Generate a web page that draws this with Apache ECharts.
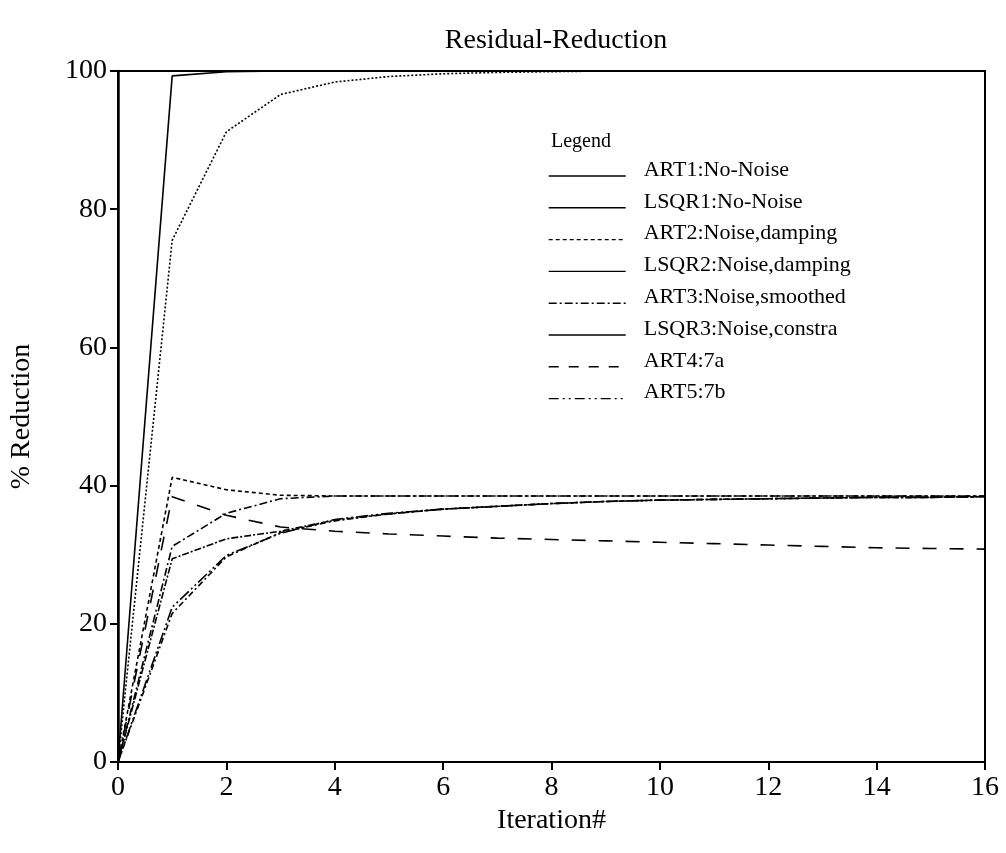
<!DOCTYPE html>
<html>
<head>
<meta charset="utf-8">
<script src="https://cdn.jsdelivr.net/npm/echarts@6/dist/echarts.min.js"></script>
<style>
html,body{margin:0;padding:0;background:#fff;}
#chart{width:1006px;height:853px;}
</style>
</head>
<body>
<div id="chart"></div>
<script>
const iterations = [0,1,2,3,4,5,6,7,8,9,10,11,12,13,14,15,16];
const seriesNames = ['ART1:No-Noise','LSQR1:No-Noise','ART2:Noise,damping','LSQR2:Noise,damping','ART3:Noise,smoothed','LSQR3:Noise,constra','ART4:7a','ART5:7b'];
const art1  = [0, 99.3, 99.9, 100, 100, 100, 100, 100, 100, 100, 100, 100, 100, 100, 100, 100, 100];
const lsqr1 = [0, 75.5, 91.2, 96.6, 98.4, 99.2, 99.6, 99.8, 99.9, 100, 100, 100, 100, 100, 100, 100, 100];
const art2  = [0, 41.2, 39.4, 38.6, 38.5, 38.5, 38.5, 38.5, 38.5, 38.5, 38.5, 38.5, 38.5, 38.5, 38.5, 38.5, 38.5];
const lsqr2 = [0, 29.4, 32.3, 33.4, 35.0, 35.9, 36.6, 37.0, 37.4, 37.7, 37.9, 38.0, 38.1, 38.2, 38.3, 38.3, 38.4];
const art3  = [0, 31.2, 36.0, 38.1, 38.5, 38.5, 38.5, 38.5, 38.5, 38.5, 38.5, 38.5, 38.5, 38.5, 38.5, 38.5, 38.5];
const lsqr3 = [0, 21.5, 29.7, 33.2, 34.9, 35.9, 36.6, 37.0, 37.4, 37.7, 37.9, 38.0, 38.1, 38.2, 38.3, 38.3, 38.4];
const art4  = [0, 38.4, 35.7, 34.0, 33.4, 33.0, 32.7, 32.4, 32.2, 32.0, 31.8, 31.6, 31.4, 31.2, 31.0, 30.9, 30.8];
const art5  = [0, 22.4, 29.9, 33.1, 35.1, 36.0, 36.6, 37.0, 37.4, 37.7, 37.9, 38.0, 38.1, 38.2, 38.3, 38.3, 38.4];
const xTicks = [0,2,4,6,8,10,12,14,16];
const yTicks = [0,20,40,60,80,100];

const values = [art1, lsqr1, art2, lsqr2, art3, lsqr3, art4, art5];
const plotDash = ['solid', [2,2], [4,3], [7,2,2,2], [8,3,2,3], [6,3,2,3], [14,13], [12,3,2,3,2,3]];
const legendDash = ['solid', 'solid', [4,3], 'solid', [8,3,2,3], 'solid', [10,10], [10,4,2,4,2,4]];
const font = 'Liberation Serif';

const chart = echarts.init(document.getElementById('chart'), null, {renderer:'canvas'});
const series = seriesNames.map((n, i) => ({
  name: n,
  type: 'line',
  data: iterations.map((x, j) => [x, values[i][j]]),
  symbol: 'none',
  showSymbol: false,
  lineStyle: {color:'#000', width:1.6, type: plotDash[i]},
  itemStyle: {color:'#000'},
  animation: false,
  z: 3
}));

chart.setOption({
  backgroundColor: '#fff',
  animation: false,
  title: [
    {text:'Residual-Reduction', left:551, top:22, textAlign:'center',
     textStyle:{fontFamily:font, fontSize:28, fontWeight:'normal', color:'#000'}},
    {text:'Legend', left:546, top:127,
     textStyle:{fontFamily:font, fontSize:20, fontWeight:'normal', color:'#000'}}
  ],
  legend: {
    orient:'vertical', left:548, top:159, padding:0,
    itemWidth:77, itemHeight:14, itemGap:-2.2,
    itemStyle:{opacity:0},
    data: seriesNames.map((n, i) => ({name:n, itemStyle:{opacity:0}, lineStyle:{type: legendDash[i], width:1.4, color:'#000', opacity:1}})),
    formatter: n => '{a|' + n + '}',
    textStyle:{fontFamily:font, fontSize:22, color:'#000',
      rich:{a:{fontFamily:font, fontSize:22, color:'#000', lineHeight:16, padding:[0,0,12,13]}}},
    selectedMode:false
  },
  grid: {left:118, right:21, top:71, bottom:91, show:true, borderColor:'#000', borderWidth:2, containLabel:false},
  xAxis: {
    type:'value', min:0, max:16, interval:2,
    name:'Iteration#', nameLocation:'middle', nameGap:33,
    nameTextStyle:{fontFamily:font, fontSize:28, color:'#000'},
    axisLine:{show:true, lineStyle:{color:'#000', width:2}},
    axisTick:{show:true, inside:false, length:8, lineStyle:{color:'#000', width:2}},
    axisLabel:{fontFamily:font, fontSize:28, color:'#000', margin:12,
      formatter: v => xTicks.includes(v) ? String(v) : ''},
    splitLine:{show:false}
  },
  yAxis: {
    type:'value', min:0, max:100, interval:20,
    name:'% Reduction', nameLocation:'middle', nameGap:82,
    nameTextStyle:{fontFamily:font, fontSize:28, color:'#000'},
    axisLine:{show:true, lineStyle:{color:'#000', width:2.5}},
    axisTick:{show:true, inside:false, length:8, lineStyle:{color:'#000', width:2}},
    axisLabel:{fontFamily:font, fontSize:28, color:'#000', margin:11,
      formatter: v => yTicks.includes(v) ? String(v) : ''},
    splitLine:{show:false}
  },
  series: series
});
</script>
</body>
</html>
